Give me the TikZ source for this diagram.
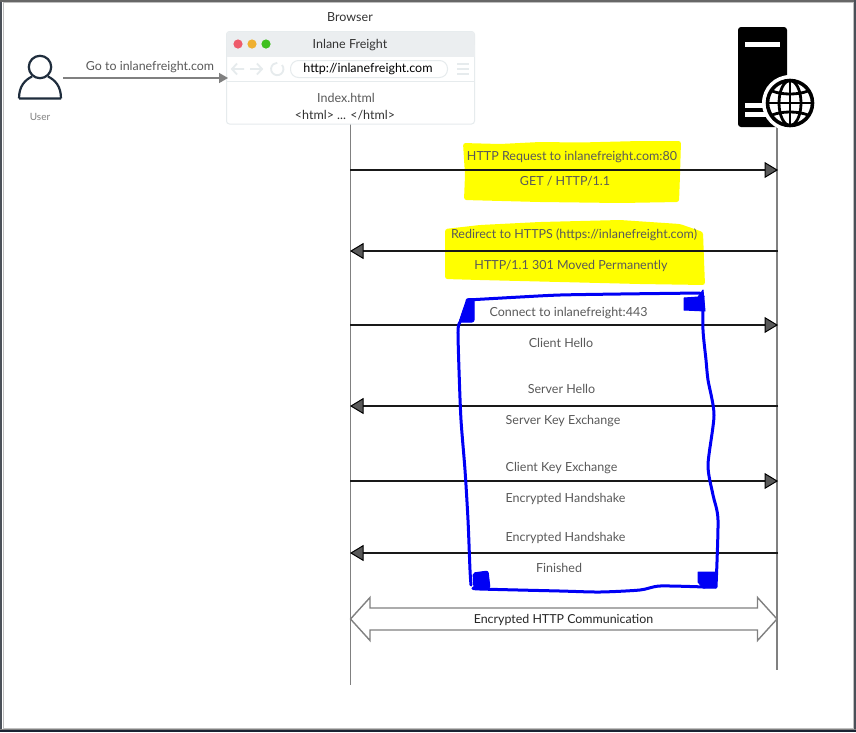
\documentclass[tikz,border=0pt]{standalone}
\usepackage{fontspec}
\setmainfont{Lato}
\usetikzlibrary{arrows.meta}
\definecolor{txt}{HTML}{595959}
\definecolor{dark}{HTML}{333333}
\definecolor{lifeg}{HTML}{808080}
\definecolor{hl}{HTML}{FFFF00}
\definecolor{pen}{HTML}{0000F5}
\definecolor{barbg}{HTML}{EBEEF0}
\definecolor{edgeg}{HTML}{E6EBED}
\definecolor{usr}{HTML}{1F2D3D}
\definecolor{dotr}{HTML}{EE5B6B}
\definecolor{doty}{HTML}{EFB030}
\definecolor{dotg}{HTML}{3EC01F}
\definecolor{frameg}{HTML}{4A5058}
\definecolor{framen}{HTML}{1B2433}
\tikzset{
  lbl/.style={font=\fontsize{12.5}{14}\selectfont,text=txt,inner sep=0pt,anchor=center},
  lifeline/.style={draw=lifeg,line width=1.5pt},
  msg/.style={draw=black!90,line width=1.6pt,-{Triangle[length=13.5pt,width=16pt,fill=black!65,color=black,line width=1pt]}},
  hollow/.style={draw=lifeg,line width=1.4pt,fill=white,line join=miter},
  penline/.style={draw=pen,line width=3pt,line join=round,line cap=round},
  blob/.style={fill=pen,draw=pen,line width=1pt,line join=round},
  glb/.style={draw=black,line width=2.8pt}
}
\begin{document}
\begin{tikzpicture}[x=1pt,y=-1pt]
\useasboundingbox (0,0) rectangle (856,732);
\fill[white] (0,0) rectangle (856,732);
% frame
\draw[draw=lifeg!50,line width=1pt] (3,2.5) -- (853,2.5) -- (853,728) -- (3,728) -- cycle;
\fill[frameg] (0,0) rectangle (2.2,732);
\fill[lifeg!80!black] (0,0) rectangle (856,1.8);
\fill[frameg] (854,0) rectangle (856,732);
\fill[lifeg] (0,728.5) rectangle (856,730);
\fill[framen] (0,730) rectangle (856,732);
% highlights
\fill[hl,rounded corners=2.5pt] (463,143) -- (500,144) -- (540,142) -- (580,142.5) -- (640,141) -- (681,141) -- (680,175) -- (679,202) -- (620,203) -- (540,202) -- (464,200) -- (465,175) -- cycle;
\fill[hl,rounded corners=2.5pt] (445,229) -- (480,225) -- (540,222) -- (620,220) -- (680,224) -- (703,232) -- (704,260) -- (705,285) -- (640,284) -- (560,282) -- (480,280) -- (445,279) -- cycle;
% lifeline anchors
\coordinate (bt) at (350.5,124);
\coordinate (bb) at (350.5,685);
\coordinate (st) at (777,127);
\coordinate (sb) at (777,670);
\draw[lifeline] (bt) -- (bb);
\draw[lifeline] (st) -- (sb);
% messages
\foreach \n/\y in {1/170,2/251,3/325,4/406,5/481,6/553}{
  \coordinate (b\n) at (350,\y);
  \coordinate (s\n) at (778,\y);
}
\draw[msg] (b1) -- (s1);
\draw[msg] (s2) -- (b2);
\draw[msg] (b3) -- (s3);
\draw[msg] (s4) -- (b4);
\draw[msg] (b5) -- (s5);
\draw[msg] (s6) -- (b6);
% double arrow
\draw[hollow] (350.5,619) -- (370,597.5) -- (370,608) -- (757.5,608) -- (757.5,597.5) -- (777,619) -- (757.5,640.5) -- (757.5,630) -- (370,630) -- (370,640.5) -- cycle;
\node[lbl,text=black!85,font=\fontsize{12.4}{14}\selectfont] (enc) at (563.5,619.6) {Encrypted HTTP Communication};
% labels
\node[lbl] (m1a) at (572,156.7) {HTTP Request to inlanefreight.com:80};
\node[lbl] (m1b) at (565,180.7) {GET / HTTP/1.1};
\node[lbl] (m2a) at (574,234.7) {Redirect to HTTPS (https://inlanefreight.com)};
\node[lbl] (m2b) at (571,265.7) {HTTP/1.1 301 Moved Permanently};
\node[lbl] (m3a) at (568.5,312.7) {Connect to inlanefreight:443};
\node[lbl] (m3b) at (561,343.2) {Client Hello};
\node[lbl] (m4a) at (561.5,389.4) {Server Hello};
\node[lbl] (m4b) at (563,420.7) {Server Key Exchange};
\node[lbl] (m5a) at (561.5,467.7) {Client Key Exchange};
\node[lbl] (m5b) at (565.5,498.7) {Encrypted Handshake};
\node[lbl] (m6a) at (565.5,537.7) {Encrypted Handshake};
\node[lbl] (m6b) at (559,568.3) {Finished};
% browser
\node[lbl,text=dark] (brl) at (350,17.3) {Browser};
\draw[draw=edgeg,line width=1pt,fill=white,rounded corners=3pt] (226.5,31.5) rectangle (474.5,124);
\fill[barbg,rounded corners=3pt] (226.5,31.5) rectangle (474.5,50);
\fill[barbg] (226.5,45) rectangle (474.5,57);
\draw[draw=edgeg,line width=1pt] (226.5,81.5) -- (474.5,81.5);
\fill[dotr] (238,44) circle (4.6);
\fill[doty] (252,44) circle (4.6);
\fill[dotg] (266,44) circle (4.6);
\node[lbl,text=dark] (brt) at (350,44.8) {Inlane Freight};
\draw[draw=edgeg,line width=1pt,rounded corners=8pt,fill=white] (290.5,60.5) rectangle (447.5,77.5);
\node[lbl,text=black] (url) at (368,69) {http://inlanefreight.com};
\begin{scope}[line width=1.8pt]
  \draw[edgeg] (244,69) -- (232,69) (237,63.5) -- (232,69) -- (237,74.5);
  \draw[edgeg] (250,69) -- (262,69) (257,63.5) -- (262,69) -- (257,74.5);
  \draw[edgeg] (282,65) arc (-40:270:6.2);
  \draw[edgeg] (457,64) -- (469,64) (457,69) -- (469,69) (457,74) -- (469,74);
\end{scope}
\node[lbl] (idx) at (346,98) {Index.html};
\node[lbl,text=dark] (htm) at (345,115) {<html> ... </html>};
% user
\draw[draw=usr,line width=2.2pt] (40,67) circle (11.2);
\draw[draw=usr,line width=2.2pt,line join=round] (19,98.5) -- (61,98.5) (19,98.5) .. controls (19,86) and (25,80) .. (32,76.5) (61,98.5) .. controls (61,86) and (55,80) .. (48,76.5);
\coordinate (usr) at (63,78);
\node[lbl,font=\fontsize{10}{12}\selectfont,text=lifeg] (ul) at (40,116.5) {User};
\node[lbl,font=\fontsize{12.4}{14}\selectfont] (go) at (150,67) {Go to inlanefreight.com};
\coordinate (brw) at (228,78);
\draw[draw=lifeg,line width=1.5pt,-{Triangle[length=9pt,width=10pt,fill=lifeg,color=lifeg]}] (usr) -- (brw);
% server
\fill[black,rounded corners=3pt] (738,27) rectangle (787,127);
\fill[white] (745,42) rectangle (780,47);
\fill[white] (745,103) rectangle (780,108);
\fill[white] (745,112) rectangle (780,117);
\fill[white] (790,103) circle (28);
\draw[glb,line width=3.6pt] (790,103) circle (22.5);
\draw[glb] (790,103) ellipse (11 and 22.5);
\draw[glb] (790,81) -- (790,125);
\draw[glb] (768,103) -- (812,103);
\draw[glb] (772,91) .. controls (782,95) and (798,95) .. (808,91);
\draw[glb] (772,115) .. controls (782,111) and (798,111) .. (808,115);
% hand-drawn box
\draw[penline] plot[smooth,tension=0.45] coordinates {(467,300) (520,297) (560,295) (620,294) (700,293)};
\draw[penline] plot[smooth,tension=0.45] coordinates {(703,296) (703,330) (706,360) (708,380) (714,415) (708,465) (713,495) (718,520) (716,587)};
\draw[penline] plot[smooth,tension=0.45] coordinates {(705,587) (660,586) (640,590) (600,592) (560,591) (480,589) (474,588)};
\draw[penline] plot[smooth,tension=0.45] coordinates {(471,585) (470,570) (468,520) (465,470) (461,420) (459,370) (458,330) (460,322)};
\fill[blob,rounded corners=2pt] (467,298.5) -- (474,298.5) -- (474,322) -- (459,322) -- cycle;
\fill[blob] (684,298) -- (698,297) -- (703,290) -- (705,311) -- (684,310) -- cycle;
\fill[blob,rounded corners=2pt] (473,573) -- (488,571) -- (490,588) -- (474,589) -- cycle;
\fill[blob] (698,572) -- (716,572) -- (716,588) -- (703,588) -- (698,582) -- cycle;
\end{tikzpicture}
\end{document}
